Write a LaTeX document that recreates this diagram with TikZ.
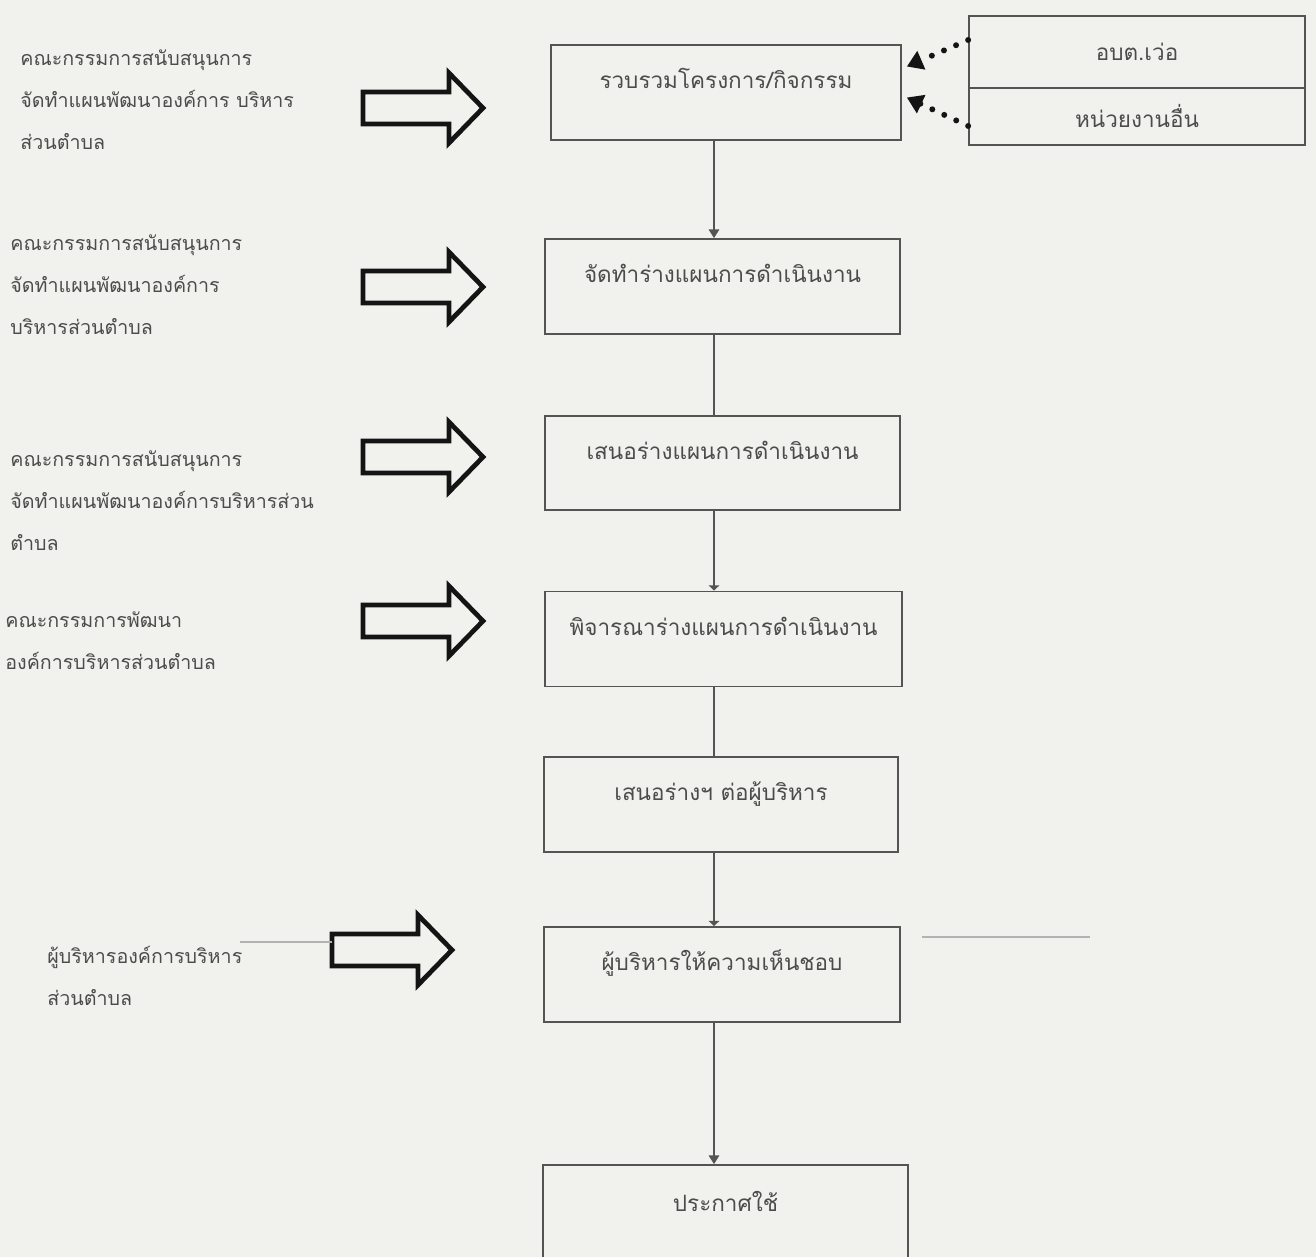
\documentclass[tikz,border=0pt]{standalone}
\usepackage{fontspec}
\usepackage{xcolor}
\usetikzlibrary{arrows.meta}
\newfontfamily\thaifont[Script=Thai]{Loma}
\definecolor{paper}{rgb}{0.945,0.945,0.93}
\definecolor{inkgray}{rgb}{0.3,0.3,0.3}
\definecolor{framegray}{rgb}{0.33,0.33,0.33}
\definecolor{scangray}{rgb}{0.7,0.7,0.7}
\definecolor{fatblack}{rgb}{0.08,0.08,0.08}
\tikzset{
	fatarrow/.pic={
		\draw[fatblack, line width=2.7pt, line join=miter]
			(0,-16) -- (86,-16) -- (86,-35) -- (120,0) -- (86,35) -- (86,16) -- (0,16) -- cycle;
	}
}

\begin{document}
\begin{tikzpicture}[x=0.02cm, y=-0.02cm,
		box/.style={draw=framegray, line width=1pt, minimum height=1.9cm,
			text height=1em, text depth=1.4em, text=inkgray,
			font=\thaifont\fontsize{12.8}{16}\selectfont},
		sidebox/.style={draw=framegray, line width=1pt, minimum width=6.72cm, text=inkgray,
			font=\thaifont\fontsize{12.8}{16}\selectfont},
		sidenote/.style={anchor=west, align=left, inner sep=0pt, text=inkgray,
			font=\thaifont\fontsize{11.2}{24}\selectfont},
		flow/.style={draw=framegray, line width=0.9pt},
		dots/.style={fatblack, line width=3.4pt, line cap=round, dash pattern=on 0pt off 7.5pt,
			-{Triangle[length=9pt, width=11pt]}},
	]
		\useasboundingbox (0,0) rectangle (1316,1257);
		\clip (0,0) rectangle (1316,1257);
		\fill[paper] (0,0) rectangle (1316,1257);
		%
		\node[box, minimum width=7.0cm] (b1) at (726,92.5) {รวบรวมโครงการ/กิจกรรม};
		\node[box, minimum width=7.1cm] (b2) at (722.5,286.5) {จัดทำร่างแผนการดำเนินงาน};
		\node[box, minimum width=7.1cm, minimum height=1.88cm] (b3) at (722.5,463) {เสนอร่างแผนการดำเนินงาน};
		\node[box, minimum width=7.14cm] (b4) at (723.5,639) {พิจารณาร่างแผนการดำเนินงาน};
		\node[box, minimum width=7.08cm] (b5) at (721,804.5) {เสนอร่างฯ ต่อผู้บริหาร};
		\node[box, minimum width=7.12cm] (b6) at (722,974.5) {ผู้บริหารให้ความเห็นชอบ};
		\node[box, minimum width=7.3cm, minimum height=2.0cm] (b7) at (725.5,1215) {ประกาศใช้};
		%
		\coordinate (spine) at (714,0);
		\draw[flow, -{Triangle[length=5pt, width=6pt]}] (b1.south -| spine) -- (b2.north -| spine);
		\draw[flow] (b2.south -| spine) -- (b3.north -| spine);
		\draw[flow, -{Triangle[length=3pt, width=6pt]}] (b3.south -| spine) -- (b4.north -| spine);
		\draw[flow] (b4.south -| spine) -- (b5.north -| spine);
		\draw[flow, -{Triangle[length=3pt, width=6pt]}] (b5.south -| spine) -- (b6.north -| spine);
		\draw[flow, -{Triangle[length=5pt, width=6pt]}] (b6.south -| spine) -- (b7.north -| spine);
		%
		\node[sidebox, minimum height=1.44cm] (r1) at (1137,52) {อบต.เว่อ};
		\node[sidebox, minimum height=1.14cm, anchor=north] (r2) at ([yshift=1pt]r1.south) {หน่วยงานอื่น};
		\draw[dots] ([yshift=0.24cm]r1.west) -- ([shift={(0.1cm,0.52cm)}]b1.east);
		\draw[dots] ([yshift=-0.19cm]r2.west) -- ([shift={(0.1cm,-0.1cm)}]b1.east);
		%
		\node[sidenote] (n1) at (20,100) {คณะกรรมการสนับสนุนการ\\จัดทำแผนพัฒนาองค์การ บริหาร\\ส่วนตำบล};
		\node[sidenote] (n2) at (10,285) {คณะกรรมการสนับสนุนการ\\จัดทำแผนพัฒนาองค์การ\\บริหารส่วนตำบล};
		\node[sidenote] (n3) at (10,501) {คณะกรรมการสนับสนุนการ\\จัดทำแผนพัฒนาองค์การบริหารส่วน\\ตำบล};
		\node[sidenote] (n4) at (5,641) {คณะกรรมการพัฒนา\\องค์การบริหารส่วนตำบล};
		\node[sidenote] (n5) at (47,976) {ผู้บริหารองค์การบริหาร\\ส่วนตำบล};
		%
		\pic (fa1) at (363,108) {fatarrow};
		\pic (fa2) at (363,287) {fatarrow};
		\pic (fa3) at (363,457) {fatarrow};
		\pic (fa4) at (363,621) {fatarrow};
		\pic (fa5) at (332,950) {fatarrow};
		%
		\coordinate (s1) at (240,942);
		\coordinate (s2) at (332,942);
		\coordinate (s3) at (922,937);
		\coordinate (s4) at (1090,937);
		\draw[scangray, line width=0.6pt] (s1) -- (s2);
		\draw[scangray, line width=0.6pt] (s3) -- (s4);
\end{tikzpicture}
\end{document}
